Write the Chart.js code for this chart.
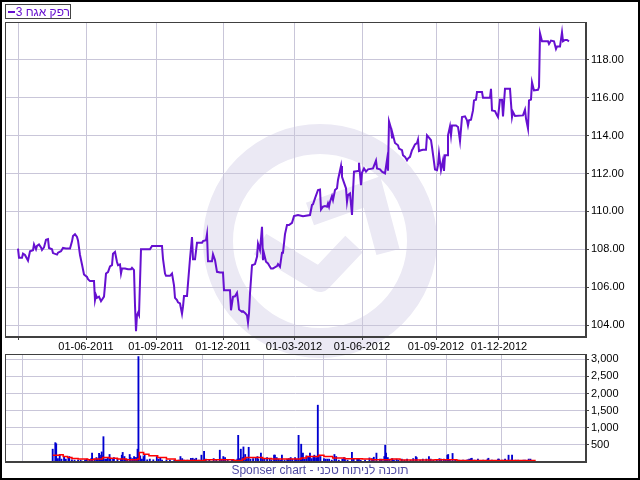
<!DOCTYPE html>
<html>
<head>
<meta charset="utf-8">
<title>רפק אגח 3</title>
<script src="https://cdn.jsdelivr.net/npm/chart.js@4/dist/chart.umd.min.js"></script>
<style>
  html, body { margin: 0; padding: 0; background: #fff; }
  #wrap { position: relative; width: 640px; height: 480px; overflow: hidden; font-family: 'Liberation Sans', Arial, sans-serif; }
  #wrap canvas { position: absolute; left: 0; }
  #priceChart { top: 0; }
  #volumeChart { top: 345px; }
  #border { position: absolute; left: 0; top: 0; width: 640px; height: 480px; box-sizing: border-box; border: 2px solid #000; pointer-events: none; }
  #legend { position: absolute; left: 5px; top: 4px; width: 66px; height: 15px; box-sizing: border-box; border: 1px solid #444; display: flex; align-items: center; font-size: 12px; color: #6610d0; }
  #legend .swatch { display: inline-block; width: 12px; height: 2px; background: #6610d0; margin-left: 2px; }
  #legend .name { margin-left: 1px; white-space: nowrap; }
  #footer { position: absolute; left: 0; top: 463px; width: 640px; text-align: center; font-size: 12px; color: #4f4aa3; }
</style>
</head>
<body>
<div id="wrap">
  <canvas id="priceChart" width="640" height="360"></canvas>
  <canvas id="volumeChart" width="640" height="135"></canvas>
  <div id="legend"><span class="swatch"></span><span class="name">רפק אגח 3</span></div>
  <div id="footer"><span>Sponser chart - תוכנה לניתוח טכני</span></div>
  <div id="border"></div>
</div>
<script>
// trading-day index of each point (0 = first session shown)
const priceDay = [0, 1, 4, 5, 7, 9, 10, 12, 15, 16, 18, 19, 21, 23, 24, 26, 28, 30, 31, 34, 35, 39, 40, 43, 45, 48, 52, 54, 55, 57,
  59, 60, 62, 64, 66, 69, 70, 72, 76, 77, 78, 79, 81, 83, 84, 86, 87, 88, 90, 92, 94, 95, 97, 99, 100, 102, 103, 104, 107, 110,
  113, 114, 116, 117, 118, 119, 120, 121, 123, 127, 132, 134, 144, 145, 147, 148, 152, 154, 156, 157, 159, 160, 162, 164, 165, 166, 169, 170, 172, 174,
  175, 177, 179, 184, 185, 188, 189, 190, 194, 195, 197, 199, 202, 205, 206, 212, 213, 215, 217, 219, 220, 221, 224, 225, 227, 229, 230, 231, 232, 234,
  237, 239, 240, 242, 244, 245, 246, 248, 250, 253, 255, 259, 260, 262, 264, 265, 267, 269, 271, 274, 276, 280, 285, 292, 294, 295, 297, 300, 302, 303,
  305, 307, 309, 310, 311, 312, 314, 315, 317, 319, 320, 323, 324, 326, 328, 329, 330, 332, 334, 335, 336, 340, 341, 343, 344, 346, 348, 350, 355, 358,
  359, 362, 364, 367, 369, 370, 371, 373, 374, 375, 377, 380, 381, 384, 385, 387, 389, 390, 392, 394, 395, 397, 399, 400, 401, 403, 405, 408, 409, 411,
  413, 414, 416, 417, 419, 420, 421, 423, 424, 425, 426, 427, 429, 430, 432, 433, 434, 438, 440, 441, 442, 444, 447, 449, 450, 451, 453, 455, 456, 458,
  459, 464, 465, 472, 473, 474, 477, 479, 480, 482, 484, 485, 487, 492, 494, 495, 497, 505, 507, 508, 510, 511, 513, 514, 516, 520, 521, 522, 524, 530,
  531, 533, 536, 538, 539, 542, 544, 545, 547, 549, 551];
const priceClose = [108.03, 107.56, 107.56, 107.77, 107.70, 107.50, 107.40, 107.90, 107.95, 108.26, 108.00, 108.18, 108.26, 108.10, 107.96, 108.10, 108.50, 108.54, 108.07, 108.00, 107.80, 107.72, 107.82, 107.90, 108.07, 108.04, 108.04, 108.42, 108.70, 108.80,
  108.65, 108.47, 107.70, 107.20, 106.67, 106.54, 106.42, 106.32, 106.32, 105.32, 105.58, 105.44, 105.50, 105.26, 105.26, 105.50, 106.10, 106.72, 106.80, 107.10, 107.16, 107.77, 107.86, 107.33, 107.16, 107.20, 106.72, 106.98, 106.98, 106.95,
  106.95, 107.02, 106.90, 105.05, 103.68, 104.53, 104.65, 104.53, 108.00, 108.00, 108.00, 108.18, 108.18, 107.50, 106.72, 106.60, 106.60, 106.72, 106.10, 105.44, 105.32, 105.20, 105.14, 104.60, 104.97, 105.53, 105.53, 106.20, 107.50, 108.65,
  107.47, 107.47, 108.34, 108.34, 108.43, 108.48, 108.80, 107.37, 107.37, 107.74, 107.43, 106.81, 106.78, 106.78, 105.84, 105.84, 104.78, 105.49, 105.52, 105.70, 105.31, 104.82, 104.70, 104.73, 104.64, 104.52, 104.13, 104.61, 105.67, 107.16,
  107.22, 107.60, 108.30, 107.96, 109.19, 107.43, 107.78, 107.34, 107.25, 106.99, 106.99, 107.11, 107.22, 107.08, 107.82, 107.82, 108.80, 109.28, 109.28, 109.40, 109.75, 109.81, 109.75, 109.81, 110.34, 110.37, 110.69, 111.13, 111.16, 110.10,
  110.25, 110.28, 110.25, 110.42, 110.25, 110.51, 110.81, 110.60, 111.13, 111.22, 111.66, 112.40, 111.83, 111.52, 111.22, 110.51, 110.86, 110.95, 109.81, 111.04, 112.10, 112.13, 112.57, 111.39, 112.04, 112.27, 112.10, 112.22, 112.27, 112.68,
  112.27, 112.22, 112.10, 112.01, 112.72, 112.15, 114.76, 114.40, 113.90, 114.02, 113.61, 113.49, 113.32, 113.23, 112.97, 112.88, 112.70, 112.79, 112.88, 113.23, 113.32, 113.54, 113.61, 113.79, 113.19, 113.23, 113.26, 113.26, 114.02, 113.90,
  113.76, 113.40, 112.62, 112.21, 112.18, 112.44, 113.05, 112.18, 112.44, 112.70, 112.14, 112.97, 112.97, 114.02, 114.49, 114.02, 114.54, 114.54, 114.46, 114.11, 113.72, 114.98, 115.02, 114.81, 114.54, 114.81, 114.84, 115.33, 115.86, 115.90,
  116.30, 116.30, 116.00, 116.00, 116.47, 115.33, 115.30, 115.07, 114.98, 115.90, 115.90, 115.02, 116.47, 116.47, 114.98, 115.25, 115.04, 115.07, 115.37, 114.90, 114.37, 115.86, 115.90, 116.82, 116.39, 116.42, 116.56, 119.40, 118.98, 118.98,
  118.84, 119.02, 118.98, 118.58, 118.70, 118.70, 119.46, 118.98, 119.05, 119.05, 118.98];

const volDay = [0, 3, 4, 6, 8, 10, 13, 15, 18, 19, 22, 25, 29, 32, 37, 39, 42, 44, 45, 48, 50, 51, 53, 54, 55, 56, 57, 58, 60, 62,
  63, 65, 66, 69, 70, 74, 78, 79, 80, 82, 83, 85, 88, 89, 91, 93, 94, 96, 97, 98, 100, 102, 104, 105, 108, 111, 115, 119, 121, 123,
  125, 130, 134, 139, 144, 146, 148, 150, 154, 158, 160, 162, 164, 167, 170, 173, 175, 179, 184, 187, 191, 193, 195, 197, 200, 205, 209, 211, 212, 214,
  215, 217, 218, 220, 222, 224, 226, 229, 232, 234, 235, 238, 240, 242, 245, 248, 250, 253, 254, 256, 258, 260, 262, 265, 268, 270, 272, 274, 277, 279,
  281, 283, 284, 286, 288, 290, 292, 294, 296, 298, 299, 301, 303, 304, 306, 310, 312, 314, 316, 319, 322, 324, 327, 331, 333, 334, 337, 342, 344, 348,
  350, 352, 357, 362, 365, 367, 370, 374, 376, 379, 380, 381, 383, 385, 388, 390, 393, 395, 399, 402, 405, 409, 412, 415, 416, 420, 423, 427, 430, 432,
  435, 439, 442, 444, 447, 449, 451, 452, 454, 457, 460, 464, 469, 474, 476, 478, 479, 482, 486, 492, 497, 498, 502, 509, 510, 514, 517, 521, 524, 525,
  529, 532, 538, 540, 544, 546];
const volQty = [375, 565, 535, 100, 220, 85, 160, 85, 130, 160, 65, 55, 55, 55, 65, 85, 65, 100, 260, 85, 130, 85, 250, 200, 130, 295, 180, 740, 85, 85,
  130, 220, 100, 85, 130, 85, 85, 200, 280, 160, 85, 85, 220, 130, 100, 160, 140, 130, 375, 3080, 180, 85, 160, 220, 65, 85, 65, 160, 85, 130,
  55, 55, 55, 55, 55, 160, 100, 55, 55, 110, 110, 85, 110, 55, 200, 315, 85, 55, 100, 55, 345, 85, 160, 130, 55, 55, 55, 85, 780, 100,
  375, 130, 440, 220, 100, 430, 85, 100, 130, 160, 85, 260, 100, 85, 130, 85, 55, 200, 200, 130, 85, 55, 200, 55, 85, 100, 130, 85, 130, 85,
  780, 85, 520, 260, 85, 180, 160, 260, 100, 160, 200, 130, 1660, 200, 160, 100, 85, 85, 85, 55, 220, 160, 55, 85, 130, 100, 55, 280, 100, 85,
  85, 55, 55, 120, 100, 140, 260, 85, 85, 160, 490, 260, 130, 85, 100, 55, 85, 55, 85, 55, 85, 55, 100, 160, 130, 55, 85, 85, 160, 85,
  55, 55, 100, 85, 85, 55, 200, 220, 55, 250, 55, 55, 55, 65, 85, 100, 110, 55, 85, 55, 85, 110, 55, 85, 85, 55, 85, 200, 55, 200,
  55, 55, 55, 55, 85, 85];

// moving average of volume (red step line)
const avgDay = [0, 5, 8, 12, 17, 22, 29, 40, 47, 57, 65, 74, 84, 97, 99, 104, 110, 120, 130, 140, 174, 187, 207, 217, 220, 234, 240, 250, 267, 280,
  284, 290, 304, 310, 320, 334, 354, 364, 387, 397, 417, 437, 462, 510, 552];
const avgQty = [200, 200, 210, 160, 130, 100, 85, 65, 85, 130, 110, 85, 65, 85, 280, 230, 180, 130, 85, 45, 65, 65, 45, 85, 130, 130, 100, 85, 85, 85,
  120, 160, 200, 160, 120, 95, 85, 65, 85, 55, 55, 65, 45, 45, 45];

const tickDay = [0, 68, 138, 205, 276, 344, 418, 481];
const tickLabel = ['', '01-06-2011', '01-09-2011', '01-12-2011', '01-03-2012', '01-06-2012', '01-09-2012', '01-12-2012'];
const priceTicks = [104, 106, 108, 110, 112, 114, 116, 118];
const volumeTicks = [500, 1000, 1500, 2000, 2500, 3000];

const FONT = "'Liberation Sans', Arial, sans-serif";
const PURPLE = '#6610d0';
const GRID = '#c9c6d9';
const AXIS = '#404040';

// faint logo behind the price panel
const watermark = {
    id: 'watermark',
    beforeDraw(chart) {
        const ctx = chart.ctx;
        ctx.save();
        ctx.strokeStyle = '#ebe9f4';
        ctx.lineWidth = 30;
        ctx.beginPath();
        ctx.arc(320, 241, 102, 0, Math.PI * 2);
        ctx.stroke();
        ctx.lineWidth = 24;
        ctx.lineJoin = 'round';
        ctx.beginPath();
        ctx.moveTo(260, 244);
        ctx.lineTo(320, 280);
        ctx.lineTo(354, 244);
        ctx.stroke();
        ctx.lineJoin = 'miter';
        ctx.beginPath();
        ctx.moveTo(310, 214);
        ctx.lineTo(372, 192);
        ctx.lineTo(388, 252);
        ctx.stroke();
        ctx.restore();
    }
};

// dark frame round the plot area
const frame = {
    id: 'frame',
    afterDraw(chart) {
        const a = chart.chartArea;
        const ctx = chart.ctx;
        ctx.save();
        ctx.strokeStyle = AXIS;
        ctx.lineWidth = 1;
        ctx.strokeRect(Math.round(a.left) + 0.5, Math.round(a.top) + 0.5, Math.round(a.right - a.left) - 1, Math.round(a.bottom - a.top) - 1);
        ctx.restore();
    }
};

function xScale(showLabels) {
    return {
        type: 'linear',
        min: -13,
        max: 568,
        afterBuildTicks: s => { s.ticks = tickDay.map(v => ({ value: v })); },
        afterFit: s => { s.height = showLabels ? 23 : 18; },
        grid: { color: GRID, tickColor: AXIS, tickLength: 3, drawTicks: showLabels },
        border: { color: AXIS },
        ticks: {
            display: showLabels,
            autoSkip: false,
            maxRotation: 0,
            padding: 0,
            color: '#000',
            font: { family: FONT, size: 11 },
            callback: v => { const i = tickDay.indexOf(v); return i >= 0 ? tickLabel[i] : ''; }
        }
    };
}

new Chart(document.getElementById('priceChart'), {
    type: 'line',
    data: {
        datasets: [{
            label: 'רפק אגח 3',
            data: priceDay.map((d, i) => ({ x: d, y: priceClose[i] })),
            borderColor: PURPLE,
            borderWidth: 2,
            pointRadius: 0,
            tension: 0
        }]
    },
    options: {
        responsive: false,
        animation: false,
        layout: { padding: { left: 5, top: 22, right: 0, bottom: 0 } },
        plugins: { legend: { display: false }, tooltip: { enabled: false } },
        scales: {
            x: xScale(true),
            y: {
                position: 'right',
                min: 103.37,
                max: 120,
                afterBuildTicks: s => { s.ticks = priceTicks.map(v => ({ value: v })); },
                afterFit: s => { s.width = 54; },
                grid: { color: GRID, tickColor: AXIS, tickLength: 3 },
                border: { color: AXIS },
                ticks: { padding: 2, color: '#000', font: { family: FONT, size: 11 }, callback: v => v.toFixed(2) }
            }
        }
    },
    plugins: [watermark, frame]
});

new Chart(document.getElementById('volumeChart'), {
    type: 'bar',
    data: {
        datasets: [{
            type: 'line',
            label: 'avg',
            data: avgDay.map((d, i) => ({ x: d, y: avgQty[i] })),
            borderColor: '#ff0000',
            borderWidth: 1.5,
            pointRadius: 0,
            stepped: true,
            order: 0
        }, {
            label: 'volume',
            data: volDay.map((d, i) => ({ x: d, y: volQty[i] })),
            backgroundColor: '#0000d0',
            barThickness: 1.2,
            order: 1
        }]
    },
    options: {
        responsive: false,
        animation: false,
        layout: { padding: { left: 5, top: 9, right: 0, bottom: 0 } },
        plugins: { legend: { display: false }, tooltip: { enabled: false } },
        scales: {
            x: xScale(false),
            y: {
                position: 'right',
                min: 0,
                max: 3155,
                afterBuildTicks: s => { s.ticks = volumeTicks.map(v => ({ value: v })); },
                afterFit: s => { s.width = 54; },
                grid: { color: GRID, tickColor: AXIS, tickLength: 3 },
                border: { color: AXIS },
                ticks: { padding: 2, color: '#000', font: { family: FONT, size: 11 }, callback: v => v.toLocaleString('en-US') }
            }
        }
    },
    plugins: [frame]
});
</script>
</body>
</html>
